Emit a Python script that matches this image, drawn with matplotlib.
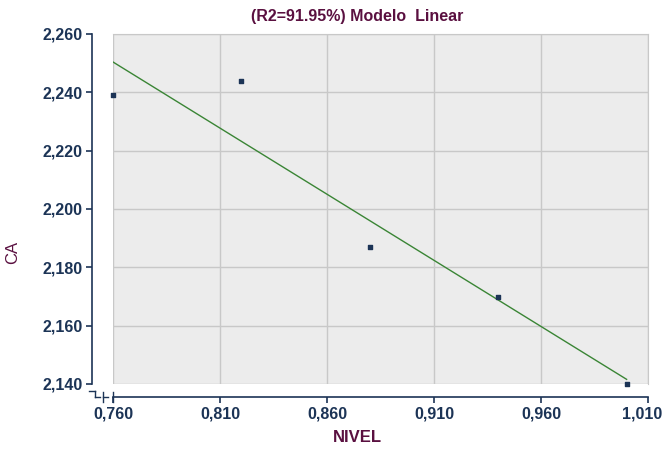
"""
Linear model fit of CA versus NIVEL, styled like the original report chart.
"""

import numpy as np
import matplotlib

matplotlib.use("Agg")
import matplotlib.pyplot as plt
import matplotlib.transforms as mtransforms
from matplotlib.lines import Line2D
from matplotlib.ticker import FuncFormatter

# observed data
nivel = [0.760, 0.820, 0.880, 0.940, 1.000]
ca = [2.239, 2.244, 2.187, 2.170, 2.140]

x_ticks = [0.760, 0.810, 0.860, 0.910, 0.960, 1.010]
y_ticks = [2.140, 2.160, 2.180, 2.200, 2.220, 2.240, 2.260]

title = "(R2=91.95%) Modelo  Linear"
x_label = "NIVEL"
y_label = "CA"

MAROON = "#5a1040"
NAVY = "#1c3456"
GREEN = "#3a8535"

plt.rcParams["font.family"] = ["Liberation Sans", "DejaVu Sans"]


def comma_fmt(v, _pos):
    return f"{v:.3f}".replace(".", ",")


def main():
    fig = plt.figure(figsize=(6.65, 4.5), dpi=100)
    ax = fig.add_axes([113 / 665, 1 - 384 / 450, (648 - 113) / 665, (384 - 34) / 450])
    ax.set_facecolor("#ececec")

    # fitted line from the data
    slope, intercept = np.polyfit(nivel, ca, 1)
    xs = np.array([min(nivel), max(nivel)])
    ax.plot(xs, slope * xs + intercept, color=GREEN, lw=1.0, zorder=3)
    ax.scatter(nivel, ca, marker="s", s=6, color=NAVY, zorder=4, clip_on=False)

    ax.set_xlim(x_ticks[0], x_ticks[-1])
    ax.set_ylim(y_ticks[0], y_ticks[-1])
    ax.set_xticks(x_ticks)
    ax.set_yticks(y_ticks)
    ax.xaxis.set_major_formatter(FuncFormatter(comma_fmt))
    ax.yaxis.set_major_formatter(FuncFormatter(comma_fmt))
    ax.grid(True, color="#c8c8c8", lw=1.0)
    ax.set_axisbelow(True)

    for side in ("top", "right"):
        ax.spines[side].set_color("#c8c8c8")
    ax.spines["left"].set_position(("outward", 15))
    ax.spines["bottom"].set_position(("outward", 9.5))
    for side in ("left", "bottom"):
        ax.spines[side].set_color(NAVY)
        ax.spines[side].set_linewidth(1.2)

    ax.tick_params(axis="both", colors=NAVY, length=4, width=1.2, labelsize=11.5)
    ax.tick_params(axis="x", pad=3)
    ax.tick_params(axis="y", pad=3)
    for lbl in ax.get_xticklabels() + ax.get_yticklabels():
        lbl.set_fontweight("bold")
        lbl.set_color(NAVY)

    # last x label is pulled left so it stays inside the figure
    last = ax.get_xticklabels()[-1]
    last.set_horizontalalignment("right")
    last.set_transform(last.get_transform()
                       + mtransforms.ScaledTranslation(0.14, 0, fig.dpi_scale_trans))

    # small axis-break marks at the lower-left corner
    def px(x, y):
        return (x / 665, 1 - y / 450)

    segs = [
        [(89, 391), (95, 391)],
        [(95, 391), (95, 397)],
        [(95, 397), (100, 397)],
        [(103, 392), (103, 402)],
        [(103, 397), (108, 397)],
        [(113, 392), (113, 402)],
    ]
    for (x0, y0), (x1, y1) in segs:
        p0, p1 = px(x0, y0), px(x1, y1)
        fig.add_artist(Line2D([p0[0], p1[0]], [p0[1], p1[1]], color=NAVY, lw=1.0,
                              transform=fig.transFigure))

    fig.text(357 / 665, 1 - 16 / 450, title, ha="center", va="center",
             fontsize=11.5, fontweight="bold", color=MAROON)
    fig.text(357 / 665, 1 - 438 / 450, x_label, ha="center", va="center",
             fontsize=12, fontweight="bold", color=MAROON)
    fig.text(13 / 665, 1 - 252 / 450, y_label, ha="center", va="center",
             rotation=90, fontsize=12, color=MAROON)

    fig.savefig("out.png", dpi=100, facecolor="white")
    plt.close(fig)


if __name__ == "__main__":
    main()
